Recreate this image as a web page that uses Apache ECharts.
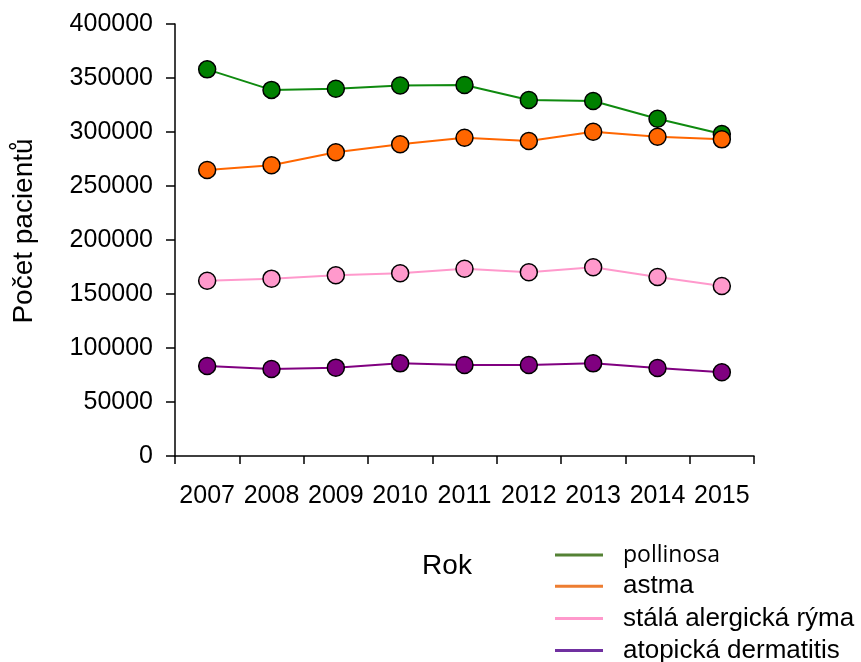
<!DOCTYPE html>
<html>
<head>
<meta charset="utf-8">
<script src="https://cdn.jsdelivr.net/npm/echarts@6/dist/echarts.min.js"></script>
<style>
html,body{margin:0;padding:0;background:#fff;}
#chart{width:861px;height:662px;}
</style>
</head>
<body>
<div id="chart"></div>
<script>
var years = ['2007','2008','2009','2010','2011','2012','2013','2014','2015'];
var pollinosa = [358000, 339000, 340000, 343000, 343500, 329600, 328700, 312300, 298100];
var astma = [264800, 269200, 281200, 288600, 294700, 291700, 300300, 295600, 293200];
var stalaRyma = [162300, 164200, 167300, 169200, 173400, 170100, 174700, 165700, 157400];
var atopicka = [83300, 80600, 81800, 85800, 84300, 84300, 85800, 81500, 77500];
var yTicks = [0, 50000, 100000, 150000, 200000, 250000, 300000, 350000, 400000];

var seriesNames = ['pollinosa', 'astma', 'stálá alergická rýma', 'atopická dermatitis'];
var seriesData = [pollinosa, astma, stalaRyma, atopicka];
var lineColors = ['#0f8a0f', '#ff6600', '#ff99cc', '#800080'];
var markerColors = ['#008000', '#ff6600', '#ff99cc', '#800080'];
var legendColors = ['#548235', '#ed7d31', '#ff99cc', '#7030a0'];

var chart = echarts.init(document.getElementById('chart'), null, {renderer: 'canvas'});
var font = 'Liberation Sans, Arial, sans-serif';

var series = seriesNames.map(function (n, i) {
  return {
    name: n,
    type: 'line',
    data: seriesData[i],
    symbol: 'circle',
    symbolSize: 17,
    lineStyle: {color: lineColors[i], width: 2},
    itemStyle: {color: markerColors[i], borderColor: '#000', borderWidth: 1.5},
    emphasis: {disabled: true}
  };
});

var legendData = seriesNames.map(function (n, i) {
  var item = {
    name: n,
    icon: 'rect',
    itemStyle: {color: legendColors[i], borderWidth: 0},
    textStyle: {fontFamily: font, fontSize: 26, lineHeight: 24, color: '#000', padding: [0, 0, 0, 15]}
  };
  if (i === 0) {
    item.textStyle = {fontFamily: 'Open Sans, sans-serif', fontSize: 23, lineHeight: 24, color: '#000', padding: [0, 0, 0, 15]};
  }
  return item;
});

chart.setOption({
  animation: false,
  backgroundColor: '#fff',
  grid: {left: 175, right: 107, top: 24, bottom: 206, containLabel: false},
  legend: {
    orient: 'vertical',
    left: 555,
    top: 543,
    height: 160,
    padding: 0,
    itemWidth: 48,
    itemHeight: 3,
    itemGap: 6.2,
    data: legendData,
    selectedMode: false
  },
  xAxis: {
    type: 'category',
    data: years,
    boundaryGap: true,
    name: 'Rok',
    nameLocation: 'middle',
    nameGap: 96,
    nameTextStyle: {fontFamily: font, fontSize: 28, color: '#000', padding: [0, 35, 0, 0]},
    axisLine: {lineStyle: {color: '#000', width: 1.5}},
    axisTick: {show: true, length: 8, lineStyle: {color: '#000', width: 1.5}},
    axisLabel: {fontFamily: font, fontSize: 25, color: '#000', margin: 28, interval: 0},
    splitLine: {show: false}
  },
  yAxis: {
    type: 'value',
    min: 0,
    max: 400000,
    interval: 50000,
    name: 'Počet pacientů',
    nameLocation: 'middle',
    nameGap: 137,
    nameRotate: 90,
    nameTextStyle: {fontFamily: font, fontSize: 28, color: '#000', padding: [0, 0, 0, 18]},
    axisLine: {show: true, lineStyle: {color: '#000', width: 1.5}},
    axisTick: {show: true, length: 9, lineStyle: {color: '#000', width: 1.5}},
    axisLabel: {
      fontFamily: font, fontSize: 25, color: '#000', margin: 22,
      formatter: function (v) { return yTicks.indexOf(v) >= 0 ? String(v) : ''; }
    },
    splitLine: {show: false}
  },
  series: series
});
</script>
</body>
</html>
